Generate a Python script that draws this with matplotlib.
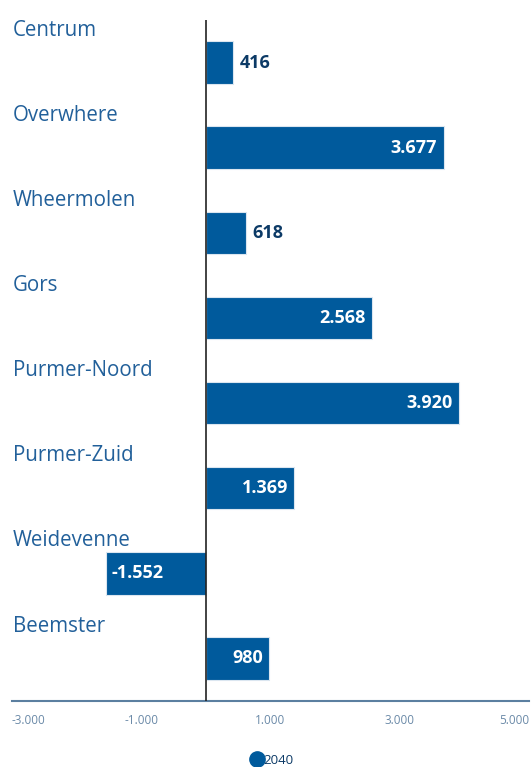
import matplotlib.pyplot as plt
from matplotlib.lines import Line2D
from matplotlib.ticker import FuncFormatter
import matplotlib.transforms as mtransforms

# Data
wijken = ["Centrum", "Overwhere", "Wheermolen", "Gors", "Purmer-Noord",
          "Purmer-Zuid", "Weidevenne", "Beemster"]
waarden = [416, 3677, 618, 2568, 3920, 1369, -1552, 980]
ticks = [-3000, -1000, 1000, 3000, 5000]
serie = "2040"

blauw = "#005a9c"
tekst_blauw = "#22609a"
donker = "#0c3a66"
grijs = "#6b8aa8"

plt.rcParams["font.family"] = ["Open Sans", "DejaVu Sans"]

W, H = 531, 767
fig = plt.figure(figsize=(W / 100, H / 100), dpi=100)
ax = fig.add_axes([12 / W, (H - 701) / H, (529 - 12) / W, (701 - 20) / H])

# Bars
y = list(range(len(wijken)))
ax.barh(y, waarden, height=0.5, color=blauw, edgecolor="#dbe6f0", linewidth=0.8, zorder=2)
ax.set_xlim(-3000, 5000)
ax.set_ylim(len(wijken) - 0.5, -0.5)

# Zero line
ax.axvline(0, color="#222222", linewidth=1.2, zorder=3)

# Category labels above bars
trans = mtransforms.blended_transform_factory(ax.transAxes, ax.transData)
for i, naam in enumerate(wijken):
    ax.text(0.002, i - 0.38, naam, transform=trans, fontsize=14.8, color=tekst_blauw,
            ha="left", va="center")

# Value labels
def fmt(v):
    return f"{v:,.0f}".replace(",", ".")

pad = 95
for i, v in enumerate(waarden):
    if abs(v) > 900:
        if v > 0:
            ax.text(v - pad, i, fmt(v), ha="right", va="center", color="white",
                    fontsize=13, fontweight="bold", zorder=4)
        else:
            ax.text(v + pad, i, fmt(v), ha="left", va="center", color="white",
                    fontsize=13, fontweight="bold", zorder=4)
    else:
        ax.text(v + 105, i, fmt(v), ha="left", va="center", color=donker,
                fontsize=13, fontweight="bold", zorder=4)

# Axes formatting
ax.set_yticks([])
ax.set_xticks(ticks)
ax.xaxis.set_major_formatter(FuncFormatter(lambda v, p: fmt(v)))
ax.tick_params(axis="x", length=0, pad=9, labelsize=8.5, labelcolor=grijs)
labels = ax.get_xticklabels()
labels[0].set_ha("left")
labels[-1].set_ha("right")
for s in ["top", "left", "right"]:
    ax.spines[s].set_visible(False)
ax.spines["bottom"].set_color("#5b7fa0")
ax.spines["bottom"].set_linewidth(1.5)

# Legend
handle = Line2D([], [], marker="o", linestyle="", color=blauw, markersize=11)
fig.legend([handle], [serie], loc="center", bbox_to_anchor=(272 / W, (H - 760) / H),
           frameon=False, fontsize=9.5, handletextpad=0.0, labelcolor=donker,
           handlelength=1.0)

fig.savefig("out.png", dpi=100)
